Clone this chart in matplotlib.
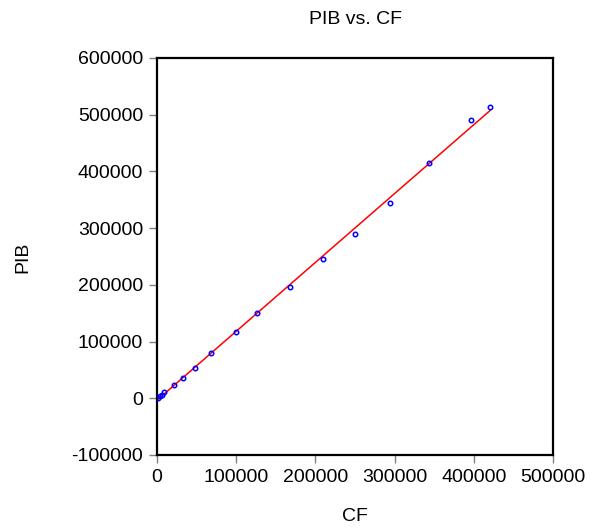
import numpy as np
import matplotlib.pyplot as plt

plt.rcParams['font.family'] = ['Liberation Sans', 'DejaVu Sans']

# --- DATA ---
cf = [1500, 4000, 6000, 8500, 21000, 33000, 48000, 68000, 100000,
      126000, 168000, 210000, 250000, 294000, 343000, 396500, 420500]
pib = [1000, 3500, 6500, 11500, 24000, 36500, 54000, 79000, 116000,
       151000, 197000, 246000, 289000, 344000, 414000, 490000, 513000]

x_ticks = [0, 100000, 200000, 300000, 400000, 500000]
y_ticks = [-100000, 0, 100000, 200000, 300000, 400000, 500000, 600000]

# --- FIT ---
slope, intercept = np.polyfit(cf, pib, 1)
x_fit = np.array([min(cf), max(cf)])
y_fit = intercept + slope * x_fit

# --- PLOT ---
fig = plt.figure(figsize=(5.92, 5.28), dpi=100)
ax = fig.add_axes([0.2652, 0.1383, 0.6689, 0.7519])

ax.plot(x_fit, y_fit, color='red', linewidth=1.1, zorder=2)
ax.plot(cf, pib, linestyle='none', marker='o', markersize=3.2,
        markerfacecolor='none', markeredgecolor='blue', markeredgewidth=1.1, zorder=3)

ax.set_xlim(0, 500000)
ax.set_ylim(-100000, 600000)
ax.set_xticks(x_ticks)
ax.set_yticks(y_ticks)
ax.set_xticklabels([str(v) for v in x_ticks])
ax.set_yticklabels([str(v) for v in y_ticks])

for side in ax.spines.values():
    side.set_linewidth(1.6)
    side.set_color('black')
ax.tick_params(direction='out', length=6, width=1, color='gray',
               labelsize=14, pad=4)

# title and axis labels placed in figure coords
fig.text(0.5997, 0.964, "PIB vs. CF", fontsize=14, ha='center', va='center')
fig.text(0.5997, 0.021, "CF", fontsize=14, ha='center', va='center')
fig.text(0.039, 0.513, "PIB", fontsize=14, ha='center', va='center', rotation=90)

plt.savefig("out.png", dpi=100)
